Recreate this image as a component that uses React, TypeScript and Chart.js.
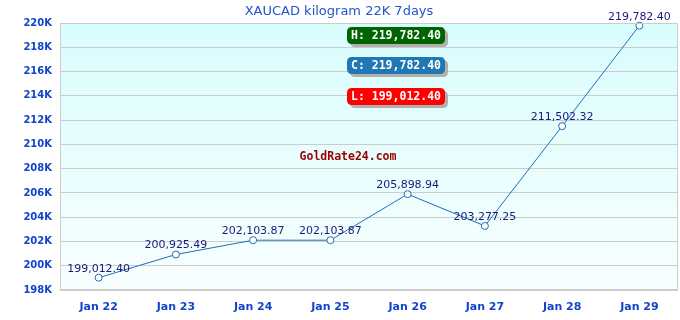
import React, { useEffect, useRef } from "react";
import { Chart, registerables } from "chart.js";

Chart.register(...registerables);

const TITLE = "XAUCAD kilogram 22K 7days";
const categories = ["Jan 22", "Jan 23", "Jan 24", "Jan 25", "Jan 26", "Jan 27", "Jan 28", "Jan 29"];
const values = [199012.40, 200925.49, 202103.87, 202103.87, 205898.94, 203277.25, 211502.32, 219782.40];
const yMin = 198000;
const yMax = 220000;
const yStep = 2000;
const highLabel = "H: 219,782.40";
const closeLabel = "C: 219,782.40";
const lowLabel = "L: 199,012.40";
const watermark = "GoldRate24.com";

const fmt = (v: number) =>
  v.toLocaleString("en-US", { minimumFractionDigits: 2, maximumFractionDigits: 2 });

function roundRect(ctx: CanvasRenderingContext2D, x: number, y: number, w: number, h: number, r: number) {
  ctx.beginPath();
  ctx.moveTo(x + r, y);
  ctx.lineTo(x + w - r, y);
  ctx.quadraticCurveTo(x + w, y, x + w, y + r);
  ctx.lineTo(x + w, y + h - r);
  ctx.quadraticCurveTo(x + w, y + h, x + w - r, y + h);
  ctx.lineTo(x + r, y + h);
  ctx.quadraticCurveTo(x, y + h, x, y + h - r);
  ctx.lineTo(x, y + r);
  ctx.quadraticCurveTo(x, y, x + r, y);
  ctx.closePath();
}

const decorPlugin = {
  id: "decor",
  beforeDraw(chart: any) {
    const { ctx, chartArea } = chart;
    const { left, top, right, bottom } = chartArea;
    ctx.save();
    const g = ctx.createLinearGradient(0, top, 0, bottom);
    g.addColorStop(0, "rgb(217,253,253)");
    g.addColorStop(1, "rgb(248,254,254)");
    ctx.fillStyle = g;
    ctx.fillRect(left, top, right - left, bottom - top);
    ctx.restore();
  },
  afterDatasetsDraw(chart: any) {
    const { ctx, chartArea } = chart;
    const { left, top, right, bottom } = chartArea;
    ctx.save();
    ctx.strokeStyle = "#cccccc";
    ctx.lineWidth = 1;
    ctx.strokeRect(left + 0.5, top + 0.5, right - left - 1, bottom - top - 1);

    ctx.fillStyle = "#2255cc";
    ctx.font = "13px 'DejaVu Sans'";
    ctx.textAlign = "center";
    ctx.textBaseline = "alphabetic";
    ctx.fillText(TITLE, 339, 15);

    const meta = chart.getDatasetMeta(0);
    ctx.font = "11px 'DejaVu Sans'";
    ctx.fillStyle = "#1a1a7a";
    meta.data.forEach((pt: any, i: number) => {
      ctx.fillText(fmt(values[i]), pt.x, pt.y - 6);
    });

    ctx.font = "bold 11.5px 'DejaVu Sans Mono'";
    ctx.fillStyle = "#990000";
    ctx.textBaseline = "middle";
    ctx.fillText(watermark, 348, 157);

    const boxes = [
      { text: highLabel, color: "#006400", y: 27 },
      { text: closeLabel, color: "#1f77b4", y: 57 },
      { text: lowLabel, color: "#ff0000", y: 88 },
    ];
    boxes.forEach((b) => {
      const x = 347, w = 98, h = 17;
      ctx.fillStyle = "#b0b0b0";
      roundRect(ctx, x + 3, b.y + 3, w, h, 5);
      ctx.fill();
      ctx.fillStyle = b.color;
      roundRect(ctx, x, b.y, w, h, 5);
      ctx.fill();
      ctx.fillStyle = "#ffffff";
      ctx.font = "bold 11.5px 'DejaVu Sans Mono'";
      ctx.textAlign = "center";
      ctx.textBaseline = "middle";
      ctx.fillText(b.text, x + w / 2, b.y + h / 2 + 1);
    });
    ctx.restore();
  },
};

export default function App() {
  const ref = useRef<HTMLCanvasElement | null>(null);
  useEffect(() => {
    document.body.style.margin = "0";
    const canvas = ref.current!;
    const chart = new Chart(canvas, {
      type: "line",
      data: {
        labels: categories,
        datasets: [
          {
            data: values,
            borderColor: "#1f6fb4",
            borderWidth: 1,
            backgroundColor: "#ffffff",
            pointBackgroundColor: "#ffffff",
            pointBorderColor: "#1f6fb4",
            pointBorderWidth: 1,
            pointRadius: 3.5,
            tension: 0,
            fill: false,
            clip: false,
          },
        ],
      },
      options: {
        animation: false,
        responsive: false,
        maintainAspectRatio: false,
        layout: { autoPadding: false, padding: { top: 23, right: 2, left: 0, bottom: 0 } },
        plugins: { legend: { display: false }, tooltip: { enabled: false }, title: { display: false } },
        scales: {
          x: {
            offset: true,
            grid: { display: false, drawTicks: false },
            border: { display: false },
            ticks: {
              color: "#1144cc",
              font: { family: "'DejaVu Sans'", size: 11, weight: "bold" },
              padding: 11,
              maxRotation: 0,
              autoSkip: false,
            },
            afterFit: (s: any) => {
              s.height = 30;
              s.paddingLeft = 0;
              s.paddingRight = 0;
            },
          },
          y: {
            min: yMin,
            max: yMax,
            grid: { color: "#cccccc", drawTicks: false },
            border: { display: false },
            ticks: {
              stepSize: yStep,
              color: "#1144cc",
              font: { family: "'DejaVu Sans'", size: 10, weight: "bold" },
              padding: 8,
              callback: (v: any) => Number(v) / 1000 + "K",
            },
            afterFit: (s: any) => {
              s.width = 60;
              s.paddingTop = 0;
              s.paddingBottom = 0;
            },
          },
        },
      },
      plugins: [decorPlugin],
    });
    return () => chart.destroy();
  }, []);
  return <canvas ref={ref} width={680} height={320} style={{ display: "block" }} />;
}
